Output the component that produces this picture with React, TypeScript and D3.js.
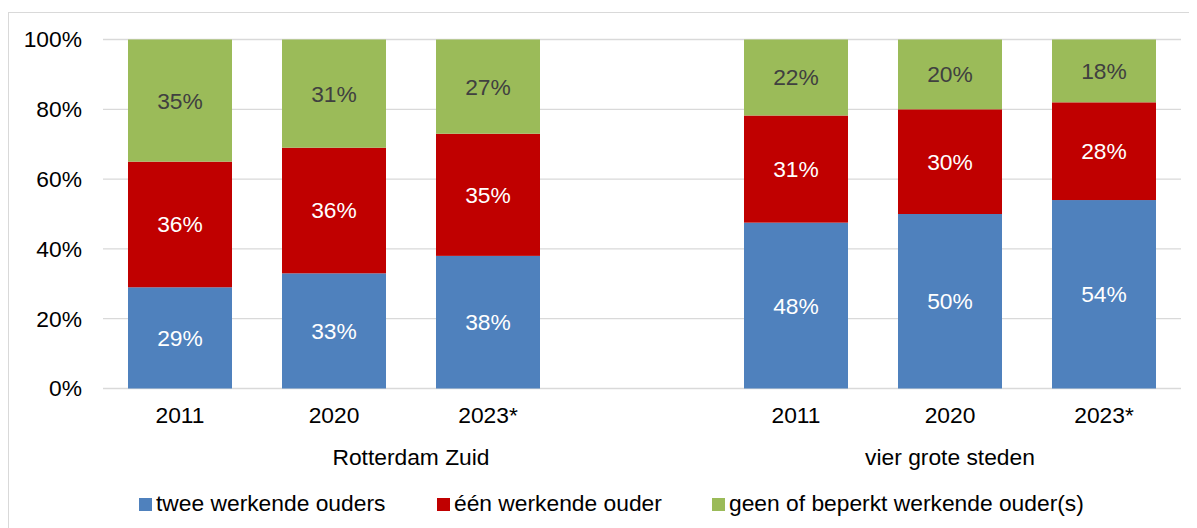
import React from "react";
import * as d3 from "d3";

const categories = ["RZ-2011", "RZ-2020", "RZ-2023", "RZ-empty", "VGS-2011", "VGS-2020", "VGS-2023"];
const yearLabels = ["2011", "2020", "2023*", "", "2011", "2020", "2023*"];
const groups = [
  { name: "Rotterdam Zuid", from: 0, to: 3 },
  { name: "vier grote steden", from: 4, to: 6 },
];
const seriesNames = ["twee werkende ouders", "één werkende ouder", "geen of beperkt werkende ouder(s)"];
const tweeWerkend = [29, 33, 38, 0, 48, 50, 54];
const eenWerkend = [36, 36, 35, 0, 31, 30, 28];
const geenWerkend = [35, 31, 27, 0, 22, 20, 18];
const yTicks = [0, 0.2, 0.4, 0.6, 0.8, 1];

const colors = ["#4F81BD", "#C00000", "#9BBB59"];
const labelColors = ["#FFFFFF", "#FFFFFF", "#404040"];
const FONT = "'Liberation Sans', Arial, sans-serif";
const FS = 22.8;

export default function App() {
  const W = 1189;
  const H = 520;
  const x0 = 95, x1 = 1173;
  const yBottom = 380.5, yTop = 31.5;

  const rows = categories.map((c, i) => ({
    cat: c,
    s0: tweeWerkend[i],
    s1: eenWerkend[i],
    s2: geenWerkend[i],
    empty: tweeWerkend[i] + eenWerkend[i] + geenWerkend[i] === 0,
  }));
  const raw = [tweeWerkend, eenWerkend, geenWerkend];

  const stack = d3.stack<any>().keys(["s0", "s1", "s2"]).offset(d3.stackOffsetExpand);
  const stacked = stack(rows);

  const x = d3.scaleBand<string>().domain(categories).range([x0, x1]).paddingInner(50 / 154).paddingOuter(25 / 154);
  const y = d3.scaleLinear().domain([0, 1]).range([yBottom, yTop]);
  const step = x.step();
  const slotStart = (i: number) => x0 + i * step;

  const legendX = [131, 429, 704];

  return (
    <svg width={W} height={H} style={{ display: "block", fontFamily: FONT }}>
      <rect x={0.5} y={4.5} width={W + 20} height={H + 20} fill="#fff" stroke="#d9d9d9" strokeWidth={1} />
      {yTicks.map((t) => (
        <g key={t}>
          <line x1={x0} x2={x1} y1={y(t)} y2={y(t)} stroke="#d9d9d9" strokeWidth={1.3} />
          <text x={74} y={y(t)} dy="0.35em" textAnchor="end" fontSize={FS} fill="#000">
            {d3.format(".0%")(t)}
          </text>
        </g>
      ))}
      {stacked.map((layer, si) =>
        layer.map((d, i) => {
          if (rows[i].empty) return null;
          const xx = x(categories[i])!;
          const yTopSeg = y(d[1]);
          const yBotSeg = y(d[0]);
          return (
            <g key={`${si}-${i}`}>
              <rect x={xx} y={yTopSeg} width={x.bandwidth()} height={yBotSeg - yTopSeg} fill={colors[si]} />
              <text
                x={xx + x.bandwidth() / 2}
                y={(yTopSeg + yBotSeg) / 2}
                dy="0.35em"
                textAnchor="middle"
                fontSize={FS}
                fill={labelColors[si]}
              >
                {raw[si][i]}%
              </text>
            </g>
          );
        })
      )}
      {categories.map((c, i) => (
        <text key={c} x={x(c)! + x.bandwidth() / 2} y={415} textAnchor="middle" fontSize={FS} fill="#000">
          {yearLabels[i]}
        </text>
      ))}
      {groups.map((g) => (
        <text
          key={g.name}
          x={(slotStart(g.from) + slotStart(g.to + 1)) / 2}
          y={457}
          textAnchor="middle"
          fontSize={FS}
          fill="#000"
        >
          {g.name}
        </text>
      ))}
      {seriesNames.map((n, i) => (
        <g key={n}>
          <rect x={legendX[i]} y={490} width={13} height={13} fill={colors[i]} />
          <text x={legendX[i] + 17} y={503} fontSize={FS} fill="#000">
            {n}
          </text>
        </g>
      ))}
    </svg>
  );
}
